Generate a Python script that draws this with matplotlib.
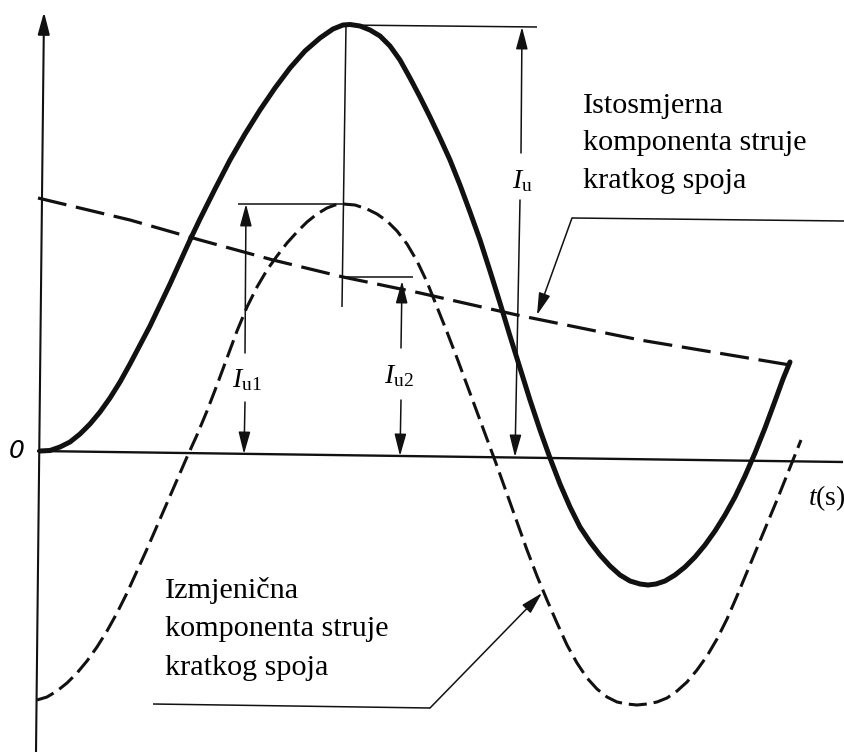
import matplotlib
matplotlib.use("Agg")
import matplotlib.pyplot as plt

# Short-circuit current diagram, coordinates (pixels, y downward)

# total short-circuit current (solid)
solid_x = [40, 50, 60, 70, 80, 90, 100, 110, 120, 130, 140, 150, 160, 170, 180, 190,
           200, 215, 230, 245, 260, 275, 290, 305, 320, 333, 343, 350, 360, 370, 380,
           390, 400, 410, 420, 430, 440, 450, 460, 470, 480, 490, 500, 510, 520, 530,
           540, 550, 560, 570, 580, 590, 600, 610, 620, 630, 640, 648, 656, 665, 675,
           685, 695, 705, 715, 725, 735, 745, 755, 765, 775, 783, 790]
solid_y = [451, 450.5, 447, 442, 434, 424, 412, 398, 382, 364, 345, 326, 305, 284, 262, 240,
           219, 189, 160, 134, 110, 88, 68, 51, 38, 29, 25, 24.5, 26, 30, 36,
           46, 60, 78, 97, 117, 138, 160, 185, 212, 240, 271, 303, 336, 368, 400,
           430, 458, 484, 507, 527, 542, 555, 566, 575, 581, 584, 585, 584, 581, 575,
           567, 557, 545, 531, 515, 497, 476, 453, 428, 401, 379, 362]

# AC component (short dashes)
ac_x = [37, 47, 57, 67, 77, 87, 97, 107, 117, 127, 137, 147, 157, 167, 177, 187,
        197, 207, 217, 227, 237, 247, 257, 267, 277, 287, 297, 307, 317, 327, 335,
        343, 355, 367, 377, 387, 397, 407, 417, 427, 437, 447, 457, 467, 477, 487,
        497, 507, 517, 527, 537, 547, 557, 567, 577, 587, 597, 607, 617, 627, 637,
        647, 657, 667, 677, 687, 697, 707, 717, 727, 737, 747, 757, 767, 777, 787,
        795, 801]
ac_y = [700, 697, 691, 683, 673, 661, 647, 631, 613, 593, 571, 549, 526, 503, 480, 457,
        435, 411, 385, 358, 331, 307, 287, 270, 256, 243, 232, 222, 214, 208, 205,
        204, 205, 209, 214, 221, 231, 244, 261, 282, 307, 332, 358, 385, 412, 439,
        466, 494, 522, 550, 576, 600, 623, 645, 663, 678, 689, 697, 702, 704, 705,
        704, 702, 698, 691, 682, 670, 656, 639, 619, 596, 572, 548, 524, 500, 475,
        455, 440]

# DC component (long dashes)
dc_x = [38, 130, 200, 273, 343, 420, 517, 640, 790]
dc_y = [198, 220, 240, 260, 277, 293, 315, 340, 365]

# zero line ends
zero_x = [37, 843]
zero_y = [451, 462]

text_dc = ["Istosmjerna", "komponenta struje", "kratkog spoja"]
text_ac = ["Izmjenična", "komponenta struje", "kratkog spoja"]

plt.rcParams["mathtext.fontset"] = "custom"
plt.rcParams["mathtext.rm"] = "Liberation Serif"
plt.rcParams["mathtext.it"] = "Liberation Serif:italic"
plt.rcParams["lines.scale_dashes"] = False

fig = plt.figure(figsize=(8.45, 7.52), dpi=100)
ax = fig.add_axes([0, 0, 1, 1])
ax.set_xlim(0, 845)
ax.set_ylim(752, 0)
ax.axis("off")

K = "#111111"
THIN = 1.1


def arrow(x0, y0, x1, y1, lw=THIN):
    ax.annotate("", xy=(x1, y1), xytext=(x0, y0),
                arrowprops=dict(arrowstyle="-|>,head_length=1.35,head_width=0.36",
                                mutation_scale=10, lw=lw, color=K,
                                shrinkA=0, shrinkB=0))


def seg(xs, ys, lw=THIN):
    ax.plot(xs, ys, color=K, lw=lw, solid_capstyle="butt")


# axes
arrow(36, 752, 44, 12, lw=1.5)
seg(zero_x, zero_y, lw=1.7)

# curves
ax.plot(solid_x, solid_y, color=K, lw=3.6, solid_joinstyle="round", solid_capstyle="round")
ax.plot(ac_x, ac_y, color=K, lw=2.2, dashes=(13, 5))
ax.plot(dc_x, dc_y, color=K, lw=2.3, dashes=(21, 7))

# measurement lines
seg([346, 342], [25, 307])
seg([343, 537], [25, 27])
seg([238, 343], [204, 204])
seg([343, 413], [277, 277])

arrow(521, 153, 522, 27)
arrow(520, 200, 515, 457)
arrow(245, 353, 246, 204)
arrow(245, 402, 244, 454)
arrow(401, 348, 402, 281)
arrow(401, 400, 400, 456)

ax.text(522, 180, r"$I_\mathrm{u}$", fontsize=20, ha="center", va="center")
ax.text(247, 379, r"$I_\mathrm{u1}$", fontsize=20, ha="center", va="center")
ax.text(399, 375, r"$I_\mathrm{u2}$", fontsize=20, ha="center", va="center")

# leaders
seg([845, 572], [221, 218])
arrow(572, 218, 537, 315)
seg([153, 430], [704, 708])
arrow(430, 708, 542, 593)

# texts
for i, s in enumerate(text_dc):
    ax.text(583, 113 + 37.5 * i, s, fontsize=21.7, family="Liberation Serif",
            ha="left", va="baseline")
for i, s in enumerate(text_ac):
    ax.text(165, 598 + 38.5 * i, s, fontsize=21.7, family="Liberation Serif",
            ha="left", va="baseline")

ax.text(17, 451, "0", fontsize=18, style="italic", ha="center", va="center")
ax.text(808, 498, r"$t$(s)", fontsize=20, family="Liberation Serif",
        ha="left", va="center")

fig.savefig("out.png", dpi=100)
